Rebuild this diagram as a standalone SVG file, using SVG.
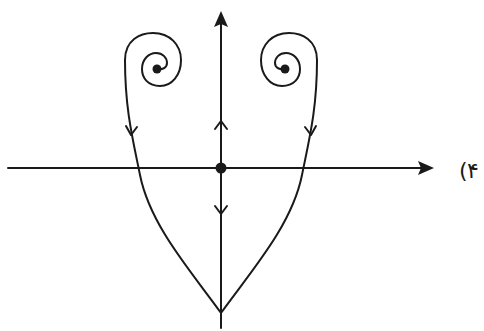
<svg xmlns="http://www.w3.org/2000/svg" width="484" height="331" viewBox="0 0 484 331">
<style>
.ln{fill:none;stroke:#1a1a1a;stroke-width:2;stroke-linecap:round;stroke-linejoin:round}
.hd{fill:#1a1a1a}
.lbl{font-family:"DejaVu Sans","Noto Sans",sans-serif;font-size:22px;fill:#1a1a1a}
</style>
<rect width="484" height="331" fill="#fff"/>
<g id="axes">
<path class="ln" d="M8,168 L424,168"/>
<path class="hd" d="M434,168 L418,161 L421,168 L418,175 Z"/>
<path class="ln" d="M221,22 L221,328"/>
<path class="hd" d="M221,11 L214,27 L221,24 L228,27 Z"/>
</g>
<g id="connectors">
<path class="ln" d="M221,313 C190,270 150,225 140,175 C133,140 125,110 125,60"/>
<path class="ln" d="M221,313 C252,270 292,225 302,175 C309,140 317,110 317,60"/>
<path class="ln" d="M125,60 C125,40 140,33 153,33 C170,33 181,45 181,60 C181,75 172,86 160,86 C148,86 142,78 142,69 C142,59 149,53 156,53 C163,53 167,58 167,63 C167,68 162,70 157,69"/>
<path class="ln" d="M317,60 C317,40 302,33 289,33 C272,33 261,45 261,60 C261,75 270,86 282,86 C294,86 300,78 300,69 C300,59 293,53 286,53 C279,53 275,58 275,63 C275,68 280,70 285,69"/>
<path class="ln" d="M126,126 L131,135 L137,127"/>
<path class="ln" d="M305,127 L311,135 L316,126"/>
<path class="ln" d="M215,129 L221,121 L227,129"/>
<path class="ln" d="M215,206 L221,214 L227,206"/>
</g>
<g id="origin"><circle cx="221" cy="168" r="5.5" class="hd"/></g>
<g id="spiral-left"><circle cx="157" cy="69" r="4.5" class="hd"/></g>
<g id="spiral-right"><circle cx="285" cy="69" r="4.5" class="hd"/></g>
<g id="label"><text class="lbl" x="459" y="178">(</text><text class="lbl" x="467" y="178">۴</text></g>
</svg>
